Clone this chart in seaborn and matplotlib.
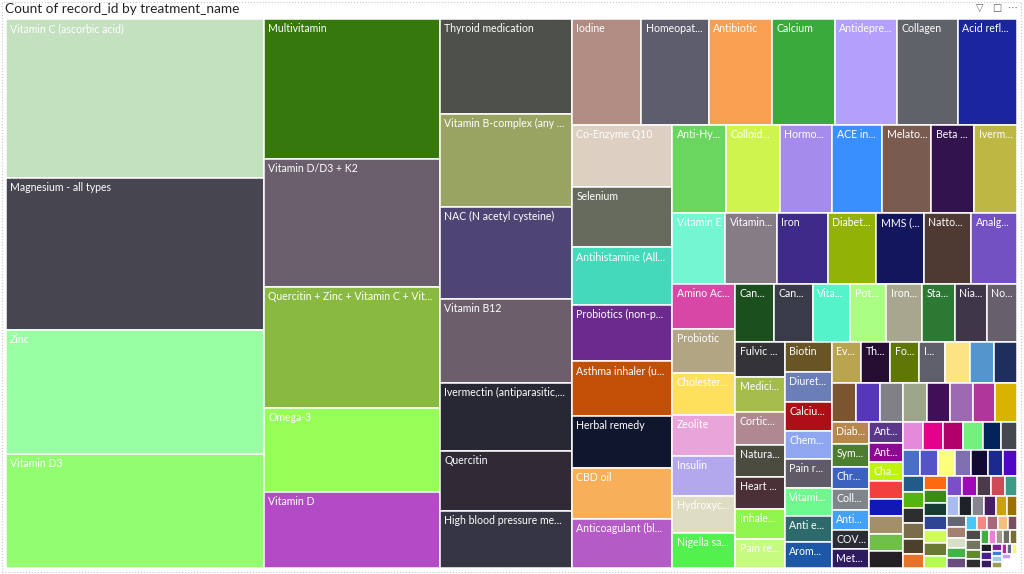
import matplotlib
matplotlib.use("Agg")
import matplotlib.pyplot as plt
import seaborn as sns
from matplotlib.patches import Rectangle

# labels as shown on the tiles ("" = tile too small for a label)
treatment_names = [
    "Vitamin C (ascorbic acid)", "Magnesium - all types", "Zinc", "Vitamin D3",
    "Multivitamin", "Vitamin D/D3 + K2", "Quercitin + Zinc + Vitamin C + Vit...", "Omega-3", "Vitamin D",
    "Thyroid medication", "Vitamin B-complex (any ...", "NAC (N acetyl cysteine)", "Vitamin B12",
    "Ivermectin (antiparasitic,...", "Quercitin", "High blood pressure me...",
    "Iodine", "Homeopat...", "Antibiotic", "Calcium", "Antidepre...", "Collagen", "Acid refl...",
    "Co-Enzyme Q10", "Selenium", "Antihistamine (All...", "Probiotics (non-p...", "Asthma inhaler (u...",
    "Herbal remedy", "CBD oil", "Anticoagulant (bl...",
    "Anti-Hy...", "Colloid...", "Hormo...", "ACE in...", "Melato...", "Beta ...", "Iverm...",
    "Vitamin E", "Vitamin...", "Iron", "Diabet...", "MMS (...", "Natto...", "Analg...",
    "Amino Ac...", "Probiotic", "Cholester...", "Zeolite", "Insulin", "Hydroxyc...", "Nigella sa...",
    "Can...", "Can...", "Vita...", "Pot...", "Iron...", "Sta...", "Nia...", "No...",
    "Fulvic ...", "Medici...", "Cortic...", "Natura...", "Heart ...", "Inhale...", "Pain re...",
    "Biotin", "Diuret...", "Calciu...", "Chem...", "Pain r...", "Vitami...", "Anti e...", "Arom...",
    "Ev...", "Th...", "Fo...", "I...", "", "", "",
    "", "", "", "", "", "", "", "",
    "Diab...", "Sym...", "Chr...", "Coll...", "Anti...", "COV...", "Met...",
    "Ant...", "Ant...", "Cha...", "", "", "", "", "",
] + [""] * 67

record_counts = [
    4082, 3935, 3199, 2949,
    2464, 2253, 2119, 1489, 1338,
    1246, 1236, 1210, 1113, 894, 788, 760,
    732, 710, 668, 662, 657, 640, 622,
    622, 603, 580, 557, 550, 520, 513, 493,
    477, 474, 465, 442, 433, 382, 377,
    373, 363, 359, 340, 335, 333, 321,
    285, 277, 265, 261, 252, 233, 226,
    225, 221, 219, 208, 205, 189, 186, 175,
    175, 172, 167, 158, 155, 149, 145,
    145, 140, 134, 134, 133, 131, 124, 122,
    122, 121, 119, 107, 105, 100, 94,
    94, 93, 93, 93, 89, 89, 88, 84,
    84, 84, 82, 81, 75, 73, 71,
    70, 64, 63, 59, 59, 58, 58, 58,
    58, 57, 56, 55, 51, 46,
    45, 45, 44, 44, 43, 39, 36,
    34, 33, 33, 33, 32, 31,
    31, 31, 30, 30, 30, 30, 29,
    29, 29, 28, 27, 24,
    25, 25, 25, 24, 22, 21,
    21, 20, 20, 19, 19,
    15, 15, 15, 14, 13,
    15, 14, 14, 14,
    10, 10, 9, 9, 9,
    9, 9, 9,
    7, 6, 6, 6, 5, 5, 5, 4, 4, 4, 3, 3, 3,
]

tile_colors = [
    "#C3E0BF", "#47454F", "#99FFA3", "#93FD72",
    "#37780C", "#6B5E6D", "#8AB942", "#97FD57", "#B34AC6",
    "#4C5048", "#9AA462", "#4F4575", "#6C5F6B", "#282834", "#302A36", "#363543",
    "#B08C82", "#5E5D6B", "#F89F52", "#3BAA3C", "#B3A0FB", "#5F6269", "#1B259E",
    "#DDD0C2", "#666B5D", "#45D9BB", "#6C2A8F", "#C24F05", "#10162E", "#F7AF5A", "#B55BC6",
    "#6AD55F", "#CFF54D", "#A48BEC", "#3890FE", "#795B4F", "#33134D", "#BDB844",
    "#73F6D2", "#867C85", "#3E2B89", "#92B305", "#13165C", "#4E3A33", "#7451C2",
    "#D847A5", "#B2A584", "#FEE05C", "#E9A4DA", "#B3A8EE", "#DEDCC2", "#52F14E",
    "#1B4F1E", "#393C48", "#55F3CA", "#AAFE82", "#A6A78E", "#2B7933", "#3F3749", "#66606C",
    "#323237", "#A3BC4A", "#B08891", "#4C4B40", "#4B3038", "#8EF54A", "#C7FB7F",
    "#695423", "#6C7EB7", "#B00E16", "#8FA7F0", "#5F5A66", "#6EF98F", "#2C6A6C", "#1C58A6",
    "#B9A54F", "#260E33", "#5F7707", "#5F5E6B", "#FDE483", "#5397CA", "#1E2E5D",
    "#7A5530", "#5636B9", "#808086", "#9CA58A", "#400F55", "#9D6AB1", "#B0369C", "#D9B302",
    "#B8874E", "#4D7E2E", "#3C62BE", "#80858B", "#43A2F8", "#2A2D33", "#2E1A5E",
    "#5A3789", "#8C0A90", "#BEF40A", "#F3403E", "#1118B6", "#A48F6B", "#70BF4B", "#231F24",
    "#E58ADA", "#E4028D", "#B1006A", "#74F07F", "#03245A", "#45474F",
    "#4A6FC7", "#5553C8", "#FBFF7B", "#7F6FB0", "#120A33", "#1C2A8E", "#5007C4",
    "#245A8A", "#52B411", "#2C2E30", "#796D4B", "#4A402C", "#E4742B",
    "#FB6A0F", "#3A8A1C", "#153D34", "#2E4691", "#D0FC55", "#6B7A32", "#B4FC4F",
    "#7A4FC6", "#9F0AB8", "#4A3A4A", "#D04A54", "#3C9A85",
    "#AABBF0", "#1E2128", "#878690", "#4A1E61", "#C9A308", "#9A7203",
    "#636870", "#A38070", "#D6E0C8", "#45B246", "#6A4C7E",
    "#49C7F4", "#F78585", "#A36A7E", "#F6BE7E", "#7A5060",
    "#4A4A48", "#727660", "#5E8A2A", "#2E2E32",
    "#3BB040", "#F07ED8", "#A49A92", "#6E6A64", "#7A6E34",
    "#1E1E26", "#4A1E94", "#3A1A60",
    "#7A1E9C", "#3A7FD0", "#A0C8E8", "#9A9A5A", "#C0209A", "#606880", "#F8F870",
    "#C8A0F0", "#D0B0F0", "#80FF40", "#C0F080", "#50D050", "#9AA090",
]

title = "Count of record_id by treatment_name"

PHI = (1 + 5 ** 0.5) / 2


def squarify(values, x0, y0, x1, y1, ratio=PHI):
    # same idea as d3.treemapSquarify (golden ratio rows)
    rects = []
    n = len(values)
    remaining = float(sum(values))
    i0 = i1 = 0
    while i0 < n:
        dx, dy = x1 - x0, y1 - y0
        row_sum = values[i1]
        i1 += 1
        vmin = vmax = row_sum
        alpha = max(dy / dx, dx / dy) / (remaining * ratio)
        beta = row_sum * row_sum * alpha
        best = max(vmax / beta, beta / vmin)
        while i1 < n:
            v = values[i1]
            s = row_sum + v
            mn, mx = min(vmin, v), max(vmax, v)
            beta = s * s * alpha
            r = max(mx / beta, beta / mn)
            if r > best:
                break
            row_sum, vmin, vmax, best = s, mn, mx, r
            i1 += 1
        row = values[i0:i1]
        if dx < dy:
            h = dy * row_sum / remaining
            x = x0
            for v in row:
                w = dx * v / row_sum
                rects.append((x, y0, w, h))
                x += w
            y0 += h
        else:
            w = dx * row_sum / remaining
            y = y0
            for v in row:
                h = dy * v / row_sum
                rects.append((x0, y, w, h))
                y += h
            x0 += w
        remaining -= row_sum
        i0 = i1
    return rects


sns.set_theme(style="white")
plt.rcParams["font.family"] = ["Lato", "DejaVu Sans"]

W, H = 1024, 574
fig = plt.figure(figsize=(W / 100, H / 100), dpi=100)
fig.patch.set_facecolor("white")

# treemap area in pixels
left, top, right, bottom = 5.5, 19.3, 1017.0, 568.3
ax = fig.add_axes([left / W, 1 - bottom / H, (right - left) / W, (bottom - top) / H])
tw, th = right - left, bottom - top
ax.set_xlim(0, tw)
ax.set_ylim(th, 0)
ax.axis("off")

rects = squarify(record_counts, 0, 0, tw, th)
for (x, y, w, h), name, col in zip(rects, treatment_names, tile_colors):
    patch = Rectangle((x, y), w, h, facecolor=col, edgecolor="white", linewidth=1.1)
    ax.add_patch(patch)
    if name and w > 20 and h > 14:
        t = ax.text(x + 4.5, y + 4, name, color="white", fontsize=7.6,
                    ha="left", va="top")
        t.set_clip_path(patch)

fig.text(5 / W, 1 - 9 / H, title, fontsize=9.8, color="#252423",
         ha="left", va="center")
for px, glyph in [(980, "\u25bd"), (997, "\u25a1"), (1013, "\u22ef")]:
    fig.text(px / W, 1 - 8 / H, glyph, fontsize=7, color="#605E5C",
             ha="center", va="center", family=["DejaVu Sans"])

# faint visual frame
fig.add_artist(Rectangle((2 / W, 1 - 572 / H), 1019 / W, 570 / H, transform=fig.transFigure,
                         fill=False, edgecolor="#C8C6C4", linewidth=0.8, linestyle=":"))

fig.savefig("out.png", dpi=100)
